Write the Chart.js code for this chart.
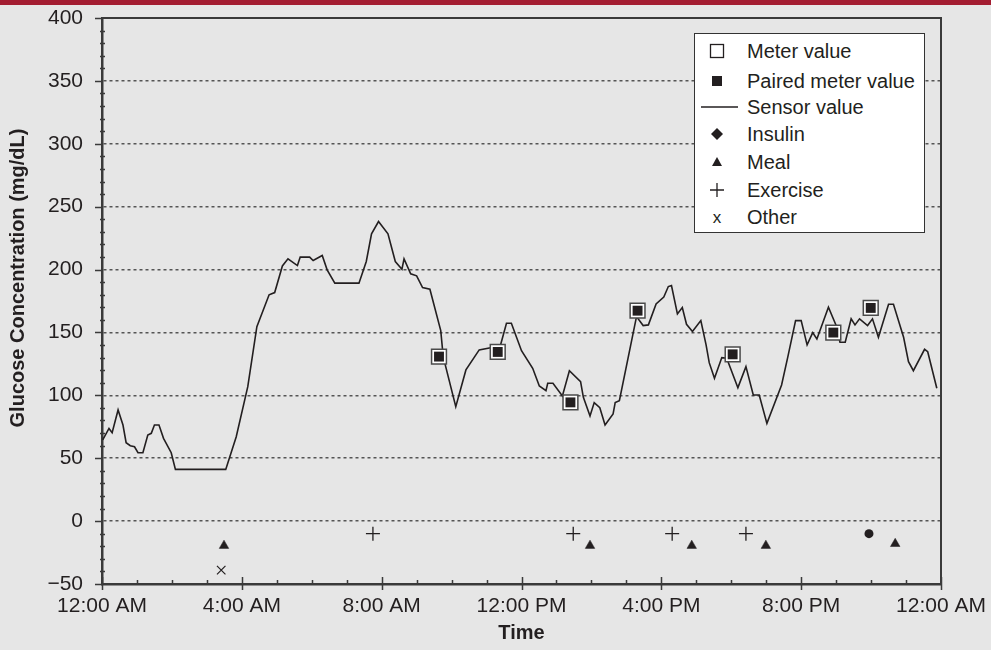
<!DOCTYPE html>
<html>
<head>
<meta charset="utf-8">
<script src="https://cdn.jsdelivr.net/npm/chart.js@4/dist/chart.umd.min.js"></script>
<style>
  html, body { margin: 0; padding: 0; background: #e6e6e6; }
  #wrap { position: relative; width: 991px; height: 650px; overflow: hidden; }
  #topbar { position: absolute; left: 0; top: 0; width: 991px; height: 5px; background: #a31d31; }
  #legend {
    position: absolute; left: 694px; top: 33px; width: 229px; height: 198px;
    background: #fff; border: 1.5px solid #333;
    font-family: "Liberation Sans", Arial, sans-serif; font-size: 20px; color: #231f20;
  }
  #legend .item { position: absolute; left: 0; height: 24px; width: 100%; }
  #legend .item span { position: absolute; left: 52px; top: 0; line-height: 24px; }
  #legend svg { position: absolute; left: 6px; top: 0; }
</style>
</head>
<body>
<div id="wrap">
  <canvas id="grafico" width="991" height="650"></canvas>
  <div id="topbar"></div>
  <div id="legend"></div>
</div>
<script>
// horas del dia (0 = 12:00 AM) y glucosa del sensor (mg/dL)
var sensorHours = [0.02, 0.2, 0.29, 0.46, 0.6, 0.69, 0.81, 0.93, 1.03, 1.17, 1.31, 1.41, 1.5, 1.63, 1.76, 1.98, 2.1, 3.54, 3.84, 4.17,
  4.43, 4.78, 4.94, 5.16, 5.32, 5.59, 5.67, 5.94, 6.04, 6.3, 6.44, 6.66, 7.35, 7.56, 7.71, 7.91, 8.18, 8.39, 8.58, 8.64,
  8.83, 9.0, 9.17, 9.38, 9.69, 9.76, 10.12, 10.41, 10.79, 11.19, 11.4, 11.57, 11.71, 12.0, 12.32, 12.51, 12.7, 12.75, 12.9, 13.17,
  13.37, 13.69, 13.77, 13.96, 14.08, 14.24, 14.39, 14.62, 14.68, 14.8, 15.29, 15.48, 15.63, 15.85, 16.07, 16.2, 16.29, 16.46, 16.6, 16.72,
  16.89, 17.13, 17.28, 17.37, 17.52, 17.73, 17.87, 18.19, 18.42, 18.63, 18.8, 19.02, 19.44, 19.62, 19.84, 20.0, 20.17, 20.33, 20.45, 20.78,
  21.0, 21.11, 21.26, 21.43, 21.54, 21.67, 21.9, 22.04, 22.21, 22.5, 22.64, 22.93, 23.07, 23.21, 23.53, 23.62, 23.88];
var sensorValues = [64.5, 73.7, 70.3, 88.4, 76.4, 62.3, 59.9, 59.1, 54.4, 54.4, 68.4, 69.8, 76.4, 76.4, 65.8, 54.4, 41.1, 41.1, 67.1, 106.9,
  154.6, 179.9, 181.7, 202.9, 208.5, 203.2, 209.9, 209.9, 207.2, 211.2, 199.8, 189.2, 189.2, 206.4, 228.4, 238.2, 228.4, 206.4, 200.3, 208.5,
  196.6, 195, 185.7, 184.4, 151.5, 130.8, 91, 120.2, 136.1, 138.2, 140, 157.3, 157.3, 135.5, 121.5, 107.4, 103.7, 109.6, 109.6, 99.5,
  119.6, 110.9, 98.4, 83.6, 94.2, 90.2, 76.4, 85.2, 94.2, 95.8, 162.6, 155.5, 156, 172.6, 178.2, 186.5, 187.3, 164.7, 169.8, 156.5,
  150.7, 159.4, 140.1, 126, 113.5, 130, 129.5, 106.1, 122.8, 100.3, 100.3, 77.7, 108.2, 130.8, 159.4, 159.4, 140.1, 149.9, 144.8, 170.1,
  155.5, 142.2, 142.2, 160.8, 156, 160.8, 155.5, 160.8, 146.2, 172.4, 172.4, 146.2, 126.8, 119.6, 136.6, 134.7, 105.6];

var meterHours = [9.64, 11.32, 13.40, 15.32, 18.04, 20.92, 21.99];
var meterValues = [130.8, 134.5, 94.4, 167.3, 132.6, 149.9, 169.5];

var mealHours = [3.49, 13.96, 16.87, 18.99, 22.69];
var mealValues = [-19.5, -19.5, -19.5, -19.5, -18];
var exerciseHours = [7.75, 13.48, 16.31, 18.42];
var exerciseValues = [-10, -10, -10, -10];
var insulinHours = [21.94];
var insulinValues = [-10];
var otherHours = [3.41];
var otherValues = [-39];

var timeLabels = ["12:00 AM", "4:00 AM", "8:00 AM", "12:00 PM", "4:00 PM", "8:00 PM", "12:00 AM"];

var legendItems = ["Meter value", "Paired meter value", "Sensor value", "Insulin", "Meal", "Exercise", "Other"];

var yTitle = "Glucose Concentration (mg/dL)";

var ink = "#231f20";
var axisColor = "#3a3a3a";

function pares(xs, ys) {
    return xs.map(function (x, i) { return { x: x, y: ys[i] }; });
}

// marcas de los ejes, marco superior/derecho y titulo del eje y
var marcas = {
    id: "marcas",
    afterDraw: function (chart) {
        var ctx = chart.ctx;
        var a = chart.chartArea;
        var xs = chart.scales.x;
        var ys = chart.scales.y;
        ctx.save();
        ctx.strokeStyle = axisColor;
        ctx.lineWidth = 2;
        ctx.beginPath();
        ctx.moveTo(a.left, a.top);
        ctx.lineTo(a.right, a.top);
        ctx.lineTo(a.right, a.bottom);
        ctx.stroke();

        ctx.lineWidth = 1.5;
        ctx.beginPath();
        for (var v = -50; v <= 400; v += 10) {
            var py = Math.round(ys.getPixelForValue(v)) + 0.5;
            if (v % 50 === 0) {
                ctx.moveTo(a.left - 7, py);
                ctx.lineTo(a.left, py);
            } else {
                ctx.moveTo(a.left - 2, py);
                ctx.lineTo(a.left + 3, py);
            }
        }
        for (var h = 0; h <= 24; h++) {
            var px = Math.round(xs.getPixelForValue(h)) + 0.5;
            if (h % 4 === 0) {
                ctx.moveTo(px, a.bottom - 7);
                ctx.lineTo(px, a.bottom + 6);
            } else {
                ctx.moveTo(px, a.bottom - 4);
                ctx.lineTo(px, a.bottom);
            }
        }
        ctx.stroke();

        // el titulo del eje y va algo por encima del centro, como en el original
        ctx.translate(18, 278);
        ctx.rotate(-Math.PI / 2);
        ctx.fillStyle = ink;
        ctx.font = "bold 20px 'Liberation Sans', Arial, sans-serif";
        ctx.textAlign = "center";
        ctx.textBaseline = "middle";
        ctx.fillText(yTitle, 0, 0);
        ctx.restore();
    }
};

document.addEventListener("DOMContentLoaded", function () {
    var canvas = document.getElementById("grafico");
    var ctx = canvas.getContext("2d");

    var myChart = new Chart(ctx, {
        type: "scatter",
        data: {
            datasets: [
                {
                    label: "Paired meter value",
                    data: pares(meterHours, meterValues),
                    pointStyle: "rect",
                    pointRadius: 7,
                    backgroundColor: ink,
                    borderWidth: 0,
                    order: 1
                },
                {
                    label: "Meter value",
                    data: pares(meterHours, meterValues),
                    pointStyle: "rect",
                    pointRadius: 10.5,
                    backgroundColor: "#ffffff",
                    borderColor: "#4a4a4a",
                    borderWidth: 1.5,
                    order: 2
                },
                {
                    label: "Sensor value",
                    type: "line",
                    data: pares(sensorHours, sensorValues),
                    borderColor: ink,
                    borderWidth: 1.6,
                    pointRadius: 0,
                    fill: false,
                    tension: 0,
                    order: 3
                },
                {
                    label: "Meal",
                    data: pares(mealHours, mealValues),
                    pointStyle: "triangle",
                    pointRadius: 5.5,
                    backgroundColor: ink,
                    borderColor: ink,
                    borderWidth: 0.5
                },
                {
                    label: "Exercise",
                    data: pares(exerciseHours, exerciseValues),
                    pointStyle: "cross",
                    pointRadius: 7,
                    borderColor: ink,
                    borderWidth: 1.3
                },
                {
                    label: "Insulin",
                    data: pares(insulinHours, insulinValues),
                    pointStyle: "circle",
                    pointRadius: 4.5,
                    backgroundColor: ink,
                    borderWidth: 0
                },
                {
                    label: "Other",
                    data: pares(otherHours, otherValues),
                    pointStyle: "crossRot",
                    pointRadius: 6,
                    borderColor: ink,
                    borderWidth: 1.2
                }
            ]
        },
        options: {
            responsive: false,
            animation: false,
            devicePixelRatio: 1,
            layout: { padding: { top: 18, right: 50, bottom: 0, left: 0 } },
            plugins: {
                legend: { display: false },
                tooltip: { enabled: false }
            },
            scales: {
                x: {
                    type: "linear",
                    min: 0,
                    max: 24,
                    afterFit: function (scale) {
                        scale.height = 66;
                        scale.paddingLeft = 0;
                        scale.paddingRight = 0;
                    },
                    ticks: {
                        stepSize: 4,
                        padding: 10,
                        color: ink,
                        font: { family: "'Liberation Sans', Arial, sans-serif", size: 21 },
                        maxRotation: 0,
                        callback: function (value) { return timeLabels[value / 4]; }
                    },
                    grid: { drawOnChartArea: false, drawTicks: false },
                    border: { display: true, color: axisColor, width: 2.5 },
                    title: {
                        display: true,
                        text: "Time",
                        color: ink,
                        font: { family: "'Liberation Sans', Arial, sans-serif", size: 20, weight: "bold" },
                        padding: { top: 0, bottom: 5 }
                    }
                },
                y: {
                    min: -50,
                    max: 400,
                    afterFit: function (scale) {
                        scale.width = 102;
                        scale.paddingTop = 0;
                        scale.paddingBottom = 0;
                    },
                    ticks: {
                        stepSize: 50,
                        padding: 19,
                        color: ink,
                        font: { family: "'Liberation Sans', Arial, sans-serif", size: 21 },
                        callback: function (value) { return value < 0 ? "\u221250" : String(value); }
                    },
                    grid: {
                        drawTicks: false,
                        lineWidth: 1.5,
                        color: function (c) {
                            var v = c.tick ? c.tick.value : 0;
                            return (v === -50 || v === 400) ? "rgba(0,0,0,0)" : "#555555";
                        }
                    },
                    border: { display: true, color: axisColor, width: 2.5, dash: [3, 3] },
                    title: { display: false }
                }
            }
        },
        plugins: [marcas]
    });

    // leyenda dentro del area del grafico
    var simbolos = [
        '<rect x="9.5" y="5.5" width="13" height="13" fill="#fff" stroke="' + ink + '" stroke-width="1.3"/>',
        '<rect x="11" y="7" width="10" height="10" fill="' + ink + '"/>',
        '<line x1="0" y1="12" x2="37" y2="12" stroke="' + ink + '" stroke-width="1.3"/>',
        '<polygon points="16,6 22,12 16,18 10,12" fill="' + ink + '"/>',
        '<polygon points="16,7 21,16 11,16" fill="' + ink + '"/>',
        '<path d="M9 12 H23 M16 5 V19" stroke="' + ink + '" stroke-width="1.3"/>',
        '<text x="16" y="18" text-anchor="middle" font-size="17" fill="' + ink + '" font-family="Liberation Sans, Arial">x</text>'
    ];
    var tops = [5, 35, 61, 88, 116, 144, 171];
    var legend = document.getElementById("legend");
    legendItems.forEach(function (name, i) {
        var d = document.createElement("div");
        d.className = "item";
        d.style.top = tops[i] + "px";
        d.innerHTML = '<svg width="40" height="24">' + simbolos[i] + '</svg><span>' + name + '</span>';
        legend.appendChild(d);
    });
});
</script>
</body>
</html>
